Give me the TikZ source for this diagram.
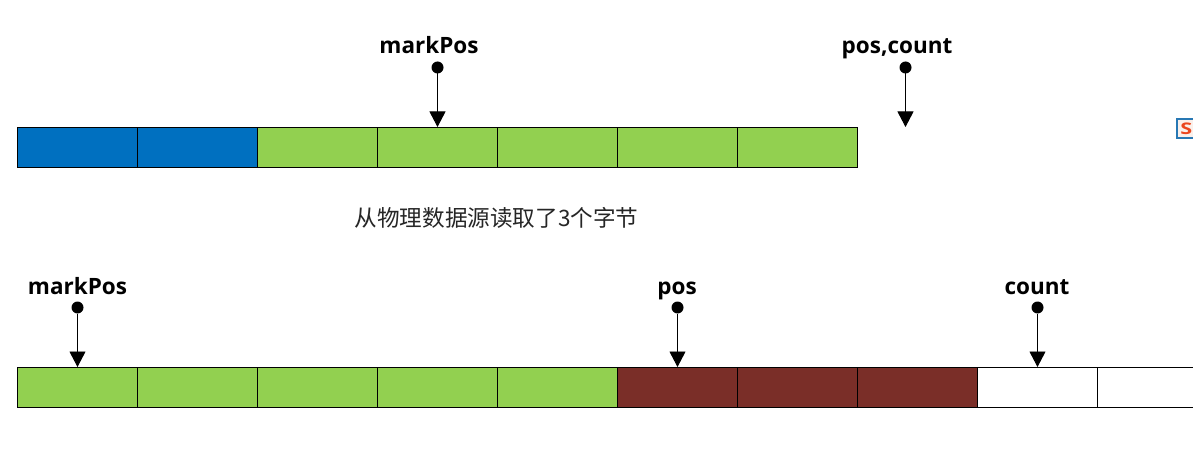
\documentclass[tikz,border=0pt]{standalone}
\usepackage{fontspec}
\setmainfont{Open Sans}
\newfontfamily\cjk{Noto Sans CJK SC}
\usetikzlibrary{arrows.meta}
\definecolor{blueCell}{RGB}{0,112,192}
\definecolor{greenCell}{RGB}{146,208,80}
\definecolor{brownCell}{RGB}{122,46,40}
\tikzset{
  x=1pt,y=-1pt,
  cell/.style={draw=black,line width=0.9pt,minimum width=120pt,minimum height=40pt,inner sep=0pt,outer sep=0pt,anchor=north west},
  bluecell/.style={cell,fill=blueCell},
  greencell/.style={cell,fill=greenCell},
  browncell/.style={cell,fill=brownCell},
  whitecell/.style={cell,fill=white},
  dotnode/.style={circle,fill=black,minimum size=12pt,inner sep=0pt,outer sep=0pt},
  ptr/.style={draw=black,line width=0.9pt,-{Triangle[length=15.5pt,width=16pt]},shorten >=0pt},
  lab/.style={font=\fontsize{22.5}{26}\selectfont\bfseries,inner sep=0pt,text=black,anchor=base},
}
\begin{document}
\begin{tikzpicture}
\clip (0,0) rectangle (1193,454);
\fill[white] (0,0) rectangle (1193,454);
% top row
\node[bluecell] (a1) at (17.5,127) {};
\node[bluecell] (a2) at (137.5,127) {};
\node[greencell] (a3) at (257.5,127) {};
\node[greencell] (a4) at (377.5,127) {};
\node[greencell] (a5) at (497.5,127) {};
\node[greencell] (a6) at (617.5,127) {};
\node[greencell] (a7) at (737.5,127) {};
% bottom row
\node[greencell] (b1) at (17.5,367) {};
\node[greencell] (b2) at (137.5,367) {};
\node[greencell] (b3) at (257.5,367) {};
\node[greencell] (b4) at (377.5,367) {};
\node[greencell] (b5) at (497.5,367) {};
\node[browncell] (b6) at (617.5,367) {};
\node[browncell] (b7) at (737.5,367) {};
\node[browncell] (b8) at (857.5,367) {};
\node[whitecell] (b9) at (977.5,367) {};
\node[whitecell] (b10) at (1097.5,367) {};
% labels
\node[lab] (l1) at (429,54) {markPos};
\node[lab] (l2) at (897,54) {pos,count};
\node[lab] (l3) at (77.5,294) {markPos};
\node[lab] (l4) at (677,294) {pos};
\node[lab] (l5) at (1037,294) {count};
\node[inner sep=0pt,font=\cjk\fontsize{22.6}{26}\selectfont,text=black!85] (cap) at (496.5,218) {从物理数据源读取了3个字节};
% pointers
\node[dotnode] (d1) at (437.5,67.5) {};
\node[dotnode] (d2) at (905.5,67.5) {};
\node[dotnode] (d3) at (77.5,307.5) {};
\node[dotnode] (d4) at (677.5,307.5) {};
\node[dotnode] (d5) at (1037.5,307.5) {};
\coordinate (free) at (905.5,127);
\draw[ptr] (d1) -- (d1 |- a4.north);
\draw[ptr] (d2) -- (free);
\draw[ptr] (d3) -- (d3 |- b1.north);
\draw[ptr] (d4) -- (d4 |- b6.north);
\draw[ptr] (d5) -- (d5 |- b9.north);
% icon
\node[draw={rgb,255:red,40;green,120;blue,180},line width=1.8pt,fill={rgb,255:red,250;green,240;blue,235},minimum width=19pt,minimum height=19pt,inner sep=0pt,anchor=north west,text={rgb,255:red,235;green,70;blue,30},font=\fontsize{16}{16}\selectfont\bfseries] (icon) at (1176,118.5) {\scalebox{1.35}[1]{S}};
\end{tikzpicture}
\end{document}
